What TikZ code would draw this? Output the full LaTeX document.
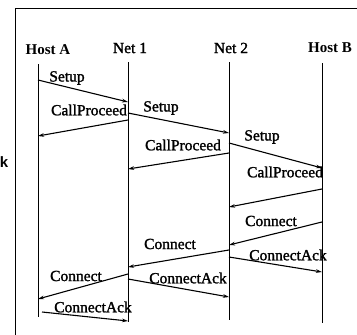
\documentclass[tikz,border=0pt]{standalone}
\usepackage{fontspec}
\setmainfont{Liberation Serif}
\newfontfamily\inkserif[FakeBold=1.5]{Liberation Serif}
\newfontfamily\labelsans{Liberation Sans}
\usetikzlibrary{arrows.meta}
\tikzset{
  lifeline/.style={line width=0.9pt},
  msg/.style={line width=1.1pt,-{Stealth[length=6pt,width=3.6pt]}},
  party/.style={inner sep=0pt,font=\inkserif\fontsize{15.5}{17}\selectfont},
  hostparty/.style={inner sep=0pt,font=\bfseries\fontsize{15}{17}\selectfont},
  msglabel/.style={inner sep=0pt,font=\inkserif\fontsize{15.5}{17}\selectfont},
  frameline/.style={line width=1pt}
}
\begin{document}
\begin{tikzpicture}[x=1pt,y=-1pt]
\useasboundingbox (0,0) rectangle (357,335);
\begin{scope}
\clip (0,0) rectangle (357,335);
% outer frame
\draw[frameline] (15,340) -- (15,8) -- (360,8);
\end{scope}
\node[inner sep=0pt,anchor=east,font=\labelsans\bfseries\fontsize{15}{16}\selectfont] (frag) at (8.5,162) {k};

% participants
\node[hostparty] (hA) at (48,50) {Host A};
\node[party] (n1) at (130,48) {Net 1};
\node[party] (n2) at (231,48) {Net 2};
\node[hostparty] (hB) at (330,48) {Host B};

% lifelines
\coordinate (aT) at (38,64);  \coordinate (aB) at (38,317);
\coordinate (bT) at (128,62); \coordinate (bB) at (128,322);
\coordinate (cT) at (229,62); \coordinate (cB) at (229,320);
\coordinate (dT) at (322,63); \coordinate (dB) at (322,323);
\draw[lifeline] (aT) -- (aB);
\draw[lifeline] (bT) -- (bB);
\draw[lifeline] (cT) -- (cB);
\draw[lifeline] (dT) -- (dB);

% message end points
\coordinate (m1s) at (38,80);   \coordinate (m1e) at (128,102);
\coordinate (m2s) at (128,120); \coordinate (m2e) at (38,136);
\coordinate (m3s) at (128,113); \coordinate (m3e) at (229,133);
\coordinate (m4s) at (229,153); \coordinate (m4e) at (128,169);
\coordinate (m5s) at (229,143); \coordinate (m5e) at (322,168);
\coordinate (m6s) at (322,189); \coordinate (m6e) at (229,207);
\coordinate (m7s) at (322,222); \coordinate (m7e) at (229,245);
\coordinate (m8s) at (229,250); \coordinate (m8e) at (128,267);
\coordinate (m9s) at (229,257); \coordinate (m9e) at (322,272);
\coordinate (m10s) at (128,274); \coordinate (m10e) at (38,299);
\coordinate (m11s) at (128,279); \coordinate (m11e) at (229,297);
\coordinate (m12s) at (42,312);  \coordinate (m12e) at (128,321);

% message labels
\node[msglabel] (l1) at (67,78) {Setup};
\node[msglabel] (l2) at (89,110) {CallProceed};
\node[msglabel] (l3) at (161,108) {Setup};
\node[msglabel] (l4) at (183,145) {CallProceed};
\node[msglabel] (l5) at (262,137) {Setup};
\node[msglabel] (l6) at (285,172) {CallProceed};
\node[msglabel] (l7) at (271,221) {Connect};
\node[msglabel] (l8) at (170,244) {Connect};
\node[msglabel] (l9) at (288,255) {ConnectAck};
\node[msglabel] (l10) at (76,276) {Connect};
\node[msglabel] (l11) at (188,278) {ConnectAck};
\node[msglabel] (l12) at (93,307) {ConnectAck};

% messages
\draw[msg] (m1s) -- (m1e);
\draw[msg] (m2s) -- (m2e);
\draw[msg] (m3s) -- (m3e);
\draw[msg] (m4s) -- (m4e);
\draw[msg] (m5s) -- (m5e);
\draw[msg] (m6s) -- (m6e);
\draw[msg] (m7s) -- (m7e);
\draw[msg] (m8s) -- (m8e);
\draw[msg] (m9s) -- (m9e);
\draw[msg] (m10s) -- (m10e);
\draw[msg] (m11s) -- (m11e);
\draw[msg] (m12s) -- (m12e);
\end{tikzpicture}
\end{document}
